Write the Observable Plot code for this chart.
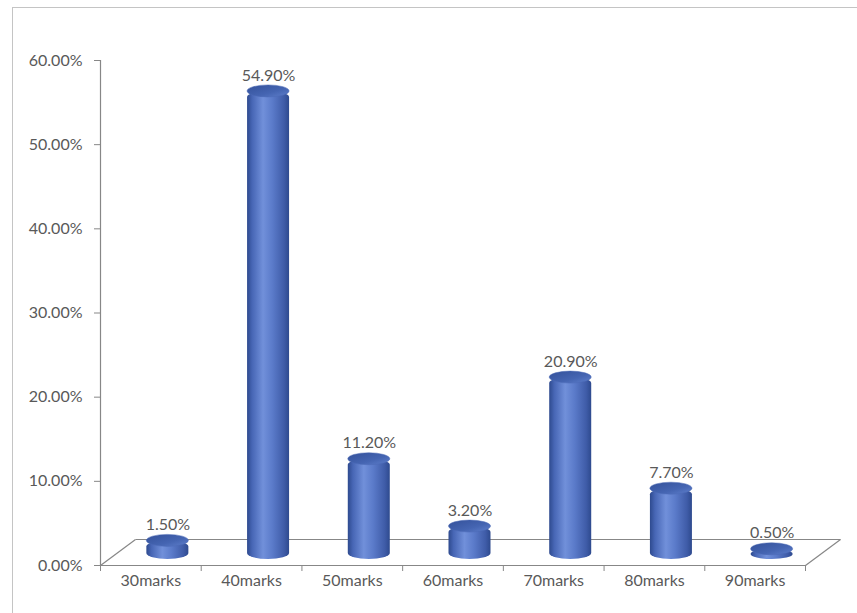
<!DOCTYPE html>
<html>
<head>
<meta charset="utf-8">
<script src="https://cdn.jsdelivr.net/npm/d3@7"></script>
<script src="https://cdn.jsdelivr.net/npm/@observablehq/plot@0.6"></script>
<style>
  html, body { margin: 0; padding: 0; background: #fff; overflow: hidden; }
  #wrap { position: relative; width: 857px; height: 613px; }
  #border { position: absolute; left: 12px; top: 7px; width: 900px; height: 700px; border: 1px solid #c4c4c4; box-sizing: border-box; }
  #chart { position: absolute; left: 0; top: 0; }
</style>
</head>
<body>
<div id="wrap"><div id="border"></div><div id="chart"></div></div>
<script>
const categories = ["30marks", "40marks", "50marks", "60marks", "70marks", "80marks", "90marks"];
const values = [0.015, 0.549, 0.112, 0.032, 0.209, 0.077, 0.005];
const labels = ["1.50%", "54.90%", "11.20%", "3.20%", "20.90%", "7.70%", "0.50%"];
const yTicks = [0, 0.1, 0.2, 0.3, 0.4, 0.5, 0.6];

const data = categories.map((c, i) => ({cat: c, i, v: values[i], label: labels[i]}));

const W = 857, H = 613;
const mL = 100, mR = 52, mT = 60, mB = 48;
const pxPerX = (W - mL - mR) / categories.length;
const pxPerY = (H - mT - mB) / 0.6;
const depthX = 35, depthY = 26;       // floor depth in px
const barDX = 17, barDY = -12;        // bar offset (mid depth)
const halfW = 21 / pxPerX;            // bar half width in x units
const font = "Lato, 'Open Sans', sans-serif";
const grey = "#878787";
const textColor = "#595959";

function defs() {
  const ns = "http://www.w3.org/2000/svg";
  const d = document.createElementNS(ns, "defs");
  d.innerHTML = `
    <linearGradient id="body" x1="0" x2="1" y1="0" y2="0">
      <stop offset="0" stop-color="#2e4a8e"/>
      <stop offset="0.12" stop-color="#4766b5"/>
      <stop offset="0.38" stop-color="#7190da"/>
      <stop offset="0.6" stop-color="#5b7bca"/>
      <stop offset="0.88" stop-color="#3f5ca8"/>
      <stop offset="1" stop-color="#2e4a8e"/>
    </linearGradient>
    <linearGradient id="top" x1="0" x2="1" y1="0" y2="1">
      <stop offset="0" stop-color="#34519a"/>
      <stop offset="0.6" stop-color="#4565b2"/>
      <stop offset="1" stop-color="#5f7fcc"/>
    </linearGradient>`;
  return d;
}

const plot = Plot.plot({
  width: W,
  height: H,
  marginLeft: mL,
  marginRight: mR,
  marginTop: mT,
  marginBottom: mB,
  style: {fontFamily: font, fontSize: "16px", color: textColor, background: "transparent"},
  x: {type: "linear", domain: [0, categories.length], axis: null},
  y: {domain: [0, 0.6], axis: null},
  marks: [
    defs,
    // floor
    Plot.ruleY([0], {stroke: grey, strokeWidth: 1.2}),
    Plot.link([0], {x1: 0, x2: categories.length, y1: 0, y2: 0, dx: depthX, dy: -depthY, stroke: grey, strokeWidth: 1.2}),
    Plot.link([0, categories.length], {x1: d => d, y1: 0, x2: d => d + depthX / pxPerX, y2: depthY / pxPerY, stroke: grey, strokeWidth: 1.2}),
    // y axis
    Plot.ruleX([0], {y1: 0, y2: 0.6, stroke: grey, strokeWidth: 1.2}),
    Plot.axisY({ticks: yTicks, tickFormat: d3.format(".2%"), tickSize: 6, tickPadding: 12, stroke: grey, fill: textColor, fontSize: 16, label: null}),
    // x axis
    Plot.axisX({ticks: d3.range(categories.length + 1), tickFormat: () => "", tickSize: 6, stroke: grey, label: null}),
    Plot.axisX({ticks: d3.range(categories.length).map(i => i + 0.5), tickFormat: d => categories[Math.floor(d)], tickSize: 0, tickPadding: 9, fill: textColor, fontSize: 16, label: null}),
    // cylinders: body
    Plot.rect(data, {
      x1: d => d.i + 0.5 - halfW, x2: d => d.i + 0.5 + halfW,
      y1: 0, y2: "v",
      dx: barDX, dy: barDY,
      insetBottom: -6,
      rx: 21, ry: 6,
      fill: "url(#body)"
    }),
    // cylinders: top
    Plot.rect(data, {
      x1: d => d.i + 0.5 - halfW, x2: d => d.i + 0.5 + halfW,
      y1: "v", y2: "v",
      dx: barDX, dy: barDY,
      insetTop: -6, insetBottom: -6,
      rx: 21, ry: 6,
      fill: "url(#top)",
      stroke: "#4a69b5", strokeWidth: 0.5
    }),
    // value labels
    Plot.text(data, {
      x: d => d.i + 0.5, y: "v", text: "label",
      dx: barDX, dy: barDY - 16,
      fill: textColor, fontSize: 16
    })
  ]
});
document.getElementById("chart").appendChild(plot);
</script>
</body>
</html>
